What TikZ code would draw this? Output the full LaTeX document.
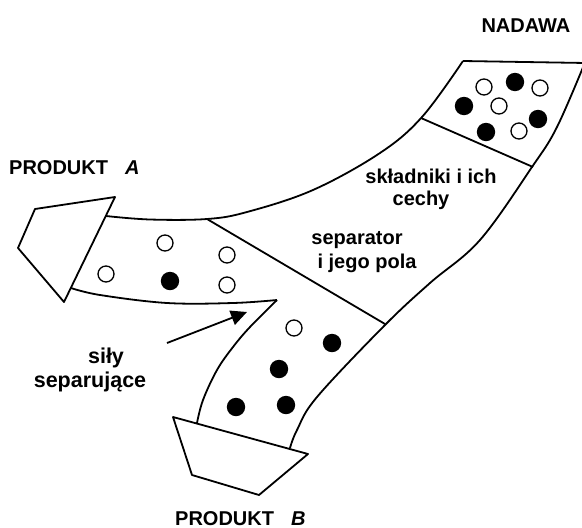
\documentclass[tikz,border=0pt]{standalone}
\usepackage{fontspec}
\setmainfont{Liberation Sans}
\usetikzlibrary{arrows.meta}
\begin{document}
\begin{tikzpicture}[x=1pt,y=-1pt,line join=round,
  edge/.style={line width=1.8pt},
  lbl/.style={font=\fontsize{20}{22}\selectfont\bfseries, inner sep=0pt, anchor=base},
  lblb/.style={font=\fontsize{21.5}{24}\selectfont\bfseries, inner sep=0pt, anchor=base},
  opendot/.style={draw, line width=1.3pt, fill=white},
  fulldot/.style={fill=black}]
\useasboundingbox (0,0) rectangle (582,528);
% outline of the stream
\draw[edge] plot[smooth,tension=0.6] coordinates {(106,216) (150,219.5) (207,219) (247,212) (313,190) (380,153) (422,117) (463,61)};
\draw[edge] (463,61) -- (586,63);
\draw[edge] plot[smooth,tension=0.6] coordinates {(586,60) (557,127) (532,167) (480,240) (430,283) (385,325) (317,397) (297,430) (290,448)};
\draw[edge] plot[smooth,tension=0.6] coordinates {(71,288) (100,295) (167,303) (233,303) (277,300)};
\draw[edge] plot[smooth,tension=0.6] coordinates {(277,300) (250,327) (233,347) (217,370) (203,400) (197,423)};
% dividers
\coordinate (d1a) at (421,118); \coordinate (d1b) at (533,167);
\coordinate (d2a) at (207,219); \coordinate (d2b) at (385,324);
\draw[edge] (d1a) -- (d1b);
\draw[edge] (d2a) -- (d2b);
% outlets
\draw[edge] (115,197) -- (35,209) -- (18,248) -- (64,302) -- cycle;
\draw[edge] (173,417) -- (192,475) -- (259,495) -- (308,454) -- cycle;
% arrow
\coordinate (as) at (167,343); \coordinate (ae) at (247,312);
\draw[edge,-{Triangle[length=16pt,width=15pt]}] (as) -- (ae);
% particles: feed
\foreach \x/\y in {484/87, 540/88, 499/106, 519/131} \draw[opendot] (\x,\y) circle (8);
\foreach \x/\y in {515/82, 464/106, 538/119, 486/132} \fill[fulldot] (\x,\y) circle (9.2);
% product A
\foreach \x/\y in {165/243, 106/274, 227/255, 227/285} \draw[opendot] (\x,\y) circle (8);
\fill[fulldot] (170,281) circle (9.2);
% product B
\draw[opendot] (294,328) circle (8);
\foreach \x/\y in {332/343, 279/369, 236/407, 286/405} \fill[fulldot] (\x,\y) circle (9.2);
% labels
\node[lbl] (nadawa) at (526,32) {NADAWA};
\node[lbl,anchor=base west] (pa) at (9,174) {PRODUKT\hspace{17pt}\textit{A}};
\node[lbl,anchor=base west] (pb) at (175,525) {PRODUKT\hspace{17pt}\textit{B}};
\node[lbl] (sk1) at (431,183) {składniki i ich};
\node[lbl] (sk2) at (421,205) {cechy};
\node[lbl] (se1) at (357,244) {separator};
\node[lbl] (se2) at (367,268) {i jego pola};
\node[lblb] (si1) at (106,363) {siły};
\node[lblb] (si2) at (90,387) {separujące};
\end{tikzpicture}
\end{document}
